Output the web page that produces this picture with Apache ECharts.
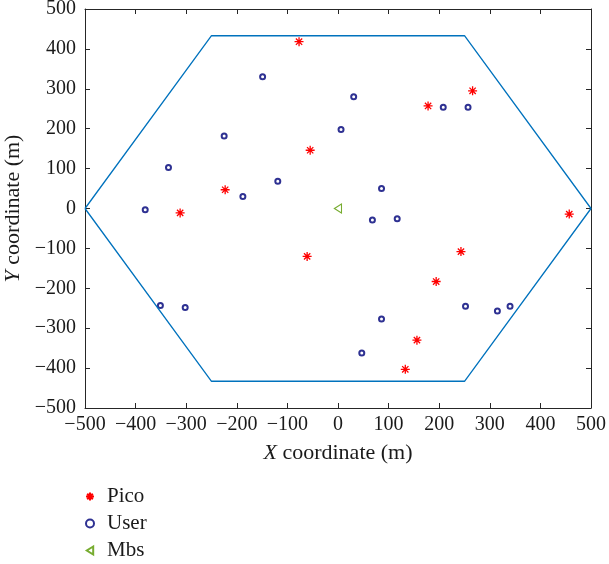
<!DOCTYPE html>
<html>
<head>
<meta charset="utf-8">
<script src="https://cdn.jsdelivr.net/npm/echarts@6/dist/echarts.min.js"></script>
<style>
  html, body { margin: 0; padding: 0; background: #fff; }
  #chart { width: 609px; height: 564px; }
</style>
</head>
<body>
<div id="chart"></div>
<script>
// Pico base-station positions (m)
const picoX = [-77, -55, -223, -312, -61, 178, 266, 457, 243, 194, 156, 133];
const picoY = [418, 146, 47, -11, -120, 257, 295, -14, -108, -183, -330, -403];
// User positions (m)
const userX = [-149, -225, -335, -119, -188, -381, 6, 31, 208, 257, 86, -351, -302, 68, 117, 252, 315, 340, 86, 47];
const userY = [330, 182, 103, 68, 30, -3, 198, 280, 254, 254, 50, -243, -248, -29, -26, -245, -257, -245, -277, -362];
// Macro base station
const mbsX = [0];
const mbsY = [0];
// Hexagonal cell boundary (m)
const hexX = [-500, -250, 250, 500, 250, -250, -500];
const hexY = [0, 433, 433, 0, -433, -433, 0];
// Axis ticks
const axisMin = -500, axisMax = 500, axisStep = 100;

const zip = (xs, ys) => xs.map((x, i) => [x, ys[i]]);
const minus = v => String(v).replace('-', '\u2212');
const serif = '"Liberation Serif", "DejaVu Serif", serif';
const ink = '#1a1a1a';

const asterisk = 'path://M0,-10L0,10M-10,0L10,0M-7,-7L7,7M-7,7L7,-7';
const leftTri = 'path://M8,-10L-8,0L8,10Z';

const axisLineStyle = { onZero: false, lineStyle: { color: '#262626', width: 1 } };
const tickStyle = { inside: true, length: 5, lineStyle: { color: '#262626' } };
const labelStyle = { fontFamily: serif, fontSize: 20, color: ink, formatter: minus };
const nameStyle = {
  fontFamily: serif, fontSize: 22, color: ink,
  rich: { i: { fontFamily: serif, fontSize: 22, fontStyle: 'italic', color: ink } }
};

const chart = echarts.init(document.getElementById('chart'), null, { renderer: 'canvas' });
chart.setOption({
  animation: false,
  backgroundColor: '#fff',
  grid: { left: 85, right: 18, top: 9, bottom: 156, containLabel: false, outerBoundsMode: 'none' },
  xAxis: [
    {
      type: 'value', min: axisMin, max: axisMax, interval: axisStep, position: 'bottom',
      axisLine: axisLineStyle, axisTick: tickStyle, splitLine: { show: false },
      axisLabel: Object.assign({ margin: 7 }, labelStyle),
      name: '{i|X} coordinate (m)', nameLocation: 'middle', nameGap: 34, nameTextStyle: nameStyle
    },
    {
      type: 'value', min: axisMin, max: axisMax, interval: axisStep, position: 'top',
      axisLine: axisLineStyle, axisTick: tickStyle, axisLabel: { show: false }, splitLine: { show: false }
    }
  ],
  yAxis: [
    {
      type: 'value', min: axisMin, max: axisMax, interval: axisStep, position: 'left',
      axisLine: axisLineStyle, axisTick: tickStyle, splitLine: { show: false },
      axisLabel: Object.assign({ margin: 9 }, labelStyle),
      name: '{i|Y} coordinate (m)', nameLocation: 'middle', nameGap: 60, nameRotate: 90,
      nameTextStyle: nameStyle
    },
    {
      type: 'value', min: axisMin, max: axisMax, interval: axisStep, position: 'right',
      axisLine: axisLineStyle, axisTick: tickStyle, axisLabel: { show: false }, splitLine: { show: false }
    }
  ],
  legend: {
    orient: 'vertical', left: 85, top: 486, itemGap: 6,
    itemWidth: 8, itemHeight: 8, padding: [0, 0, 0, 0],
    textStyle: { fontFamily: serif, fontSize: 21, color: ink, padding: [0, 0, 0, 8] },
    data: [
      { name: 'Pico' },
      { name: 'User', itemStyle: { borderWidth: 1.3 } },
      { name: 'Mbs' }
    ]
  },
  series: [
    {
      name: 'Cell', type: 'line', data: zip(hexX, hexY), xAxisIndex: 0, yAxisIndex: 0,
      symbol: 'none', lineStyle: { color: '#0072bd', width: 1.3 }, silent: true
    },
    {
      name: 'Pico', type: 'scatter', data: zip(picoX, picoY),
      symbol: asterisk, symbolSize: 9,
      itemStyle: { color: '#ff0000', borderColor: '#ff0000', borderWidth: 1.3, opacity: 1 }
    },
    {
      name: 'User', type: 'scatter', data: zip(userX, userY),
      symbol: 'emptyCircle', symbolSize: 5,
      itemStyle: { color: '#2e3192', borderWidth: 1.3, opacity: 1 }
    },
    {
      name: 'Mbs', type: 'scatter', data: zip(mbsX, mbsY),
      symbol: leftTri, symbolSize: [7, 9],
      itemStyle: { color: '#ffffff', borderColor: '#77ac30', borderWidth: 1.2, opacity: 1 }
    }
  ]
});
</script>
</body>
</html>
